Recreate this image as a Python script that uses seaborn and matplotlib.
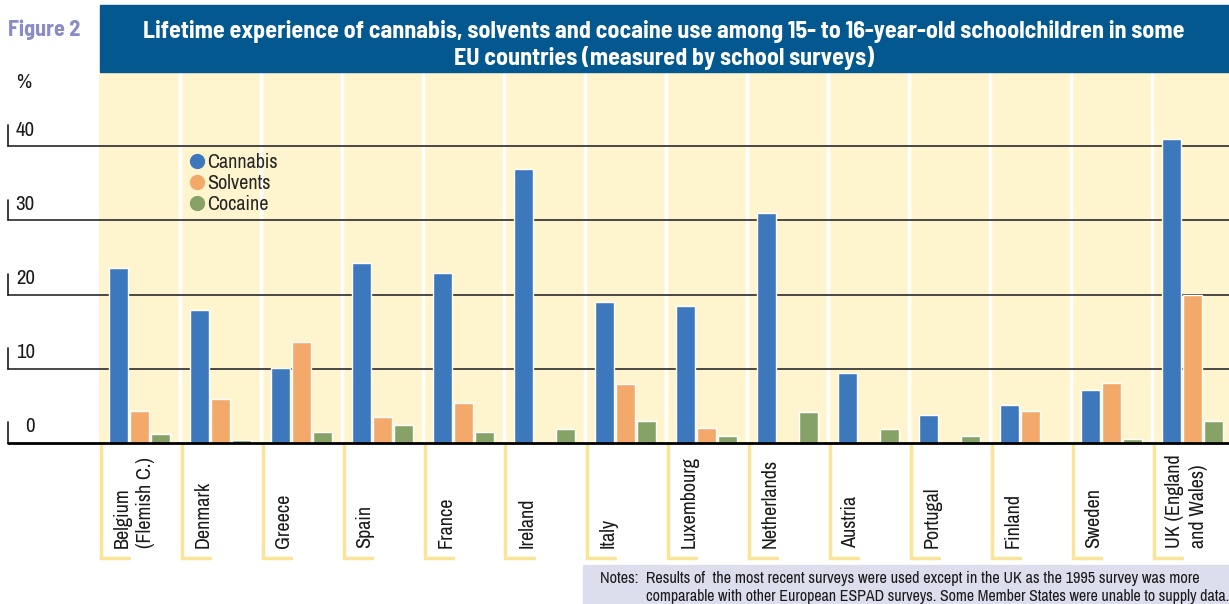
import pandas as pd
import numpy as np
import matplotlib
matplotlib.use("Agg")
import matplotlib.pyplot as plt
from matplotlib.lines import Line2D
from matplotlib.patches import Rectangle
import seaborn as sns

# Dados (%)
countries = ["Belgium\n(Flemish C.)", "Denmark", "Greece", "Spain", "France", "Ireland",
             "Italy", "Luxembourg", "Netherlands", "Austria", "Portugal", "Finland",
             "Sweden", "UK (England\nand Wales)"]
cannabis = [23.6, 17.9, 10.1, 24.3, 22.9, 36.9, 19.0, 18.5, 31.0, 9.4, 3.8, 5.1, 7.1, 41.0]
solvents = [4.3, 5.9, 13.6, 3.5, 5.4, np.nan, 8.0, 2.0, np.nan, np.nan, np.nan, 4.3, 8.1, 20.0]
cocaine = [1.2, 0.4, 1.5, 2.4, 1.5, 1.9, 3.0, 0.9, 4.2, 1.9, 0.9, 0.2, 0.5, 3.0]
drugs = ["Cannabis", "Solvents", "Cocaine"]
yticks = [0, 10, 20, 30, 40]

colors = {"Cannabis": "#3d78bc", "Solvents": "#f3a96a", "Cocaine": "#86a266"}

sns.set_style("white")
plt.rcParams["font.family"] = ["Archivo Narrow", "DejaVu Sans"]
bold_font = ["Barlow Semi Condensed", "DejaVu Sans"]

df = pd.DataFrame({"country": countries * 3,
                   "drug": np.repeat(drugs, len(countries)),
                   "value": cannabis + solvents + cocaine})
df = df.dropna()

W, H = 1229, 604
fig = plt.figure(figsize=(W / 100, H / 100), dpi=100)
ax_l, ax_r, ax_t, ax_b = 99, 1229, 72, 443
ax = fig.add_axes([ax_l / W, 1 - ax_b / H, (ax_r - ax_l) / W, (ax_b - ax_t) / H])
ax.set_facecolor("#fef5cf")

sns.barplot(data=df, x="country", y="value", hue="drug", order=countries, hue_order=drugs,
            palette=colors, width=0.78, gap=0.06, saturation=1, legend=False, ax=ax, zorder=3)

ncol = len(countries)
ax.set_xlim(-0.5, -0.5 + (ax_r - ax_l) / 81)
ax.set_ylim(0, 50)
for s in ax.spines.values():
    s.set_visible(False)
ax.set_xticks([])
ax.set_yticks([])
ax.set_xlabel("")
ax.set_ylabel("")

# Separadores brancos entre países
for k in range(ncol - 1):
    ax.axvline(k + 0.5, color="white", lw=2.5, zorder=1)

# Linhas de grade estendidas à esquerda
px = ax_r - ax_l
xmin = -(ax_l - 8) / px
for v in yticks[1:]:
    ax.axhline(v, xmin=xmin, xmax=1, color="#3a3a3a", lw=1.3, clip_on=False, zorder=2)
ax.axhline(0, xmin=xmin, xmax=1, color="black", lw=2, clip_on=False, zorder=4)

ytr = ax.get_yaxis_transform()
for v in yticks:
    ax.text((35 - ax_l) / px, v + 0.9, str(v), transform=ytr, ha="right", va="bottom",
            fontsize=15, color="#1a1a1a")
    ax.plot([(8 - ax_l) / px] * 2, [v, v + 2.8], transform=ytr, color="#1a1a1a",
            lw=1.2, clip_on=False)
fig.text(24 / W, 1 - 82 / H, "%", ha="center", va="center", fontsize=15, color="#1a1a1a")

# Rótulos dos países com colchetes amarelos
xtr = ax.get_xaxis_transform()
yb = -(558 - ax_b) / (ax_b - ax_t)
for i, c in enumerate(countries):
    left = i - 0.5 + 1.5 / 81
    ax.plot([left, left, left + 28 / 81], [-0.005, yb, yb], transform=xtr,
            color="#fbe398", lw=2.5, clip_on=False, solid_joinstyle="miter")
    ax.text(i - 0.5 + 13.5 / 81, -(548 - ax_b) / (ax_b - ax_t), c, transform=xtr,
            rotation=90, rotation_mode="anchor", ha="left", va="top",
            fontsize=14.5, color="#1a1a1a", linespacing=1.3)

# Legenda
handles = [Line2D([], [], marker="o", ls="", markersize=10, color=colors[d]) for d in drugs]
ax.legend(handles, drugs, loc="upper left", bbox_to_anchor=(177 / W, 1 - 145 / H),
          bbox_transform=fig.transFigure, frameon=False, fontsize=14.5,
          handletextpad=-0.1, labelspacing=0.1, borderaxespad=0, handlelength=1.2)

# Faixa do título
fig.patches.append(Rectangle((100 / W, 1 - 72 / H), (W - 100) / W, 67 / H,
                             transform=fig.transFigure, color="#03588f", zorder=0))
fig.text(664 / W, 1 - 45 / H,
         "Lifetime experience of cannabis, solvents and cocaine use among 15- to 16-year-old schoolchildren in some\n"
         "EU countries (measured by school surveys)",
         ha="center", va="center", color="white", fontsize=17.3, fontweight="bold",
         family=bold_font, linespacing=1.12)
fig.text(8 / W, 1 - 30 / H, "Figure 2", ha="left", va="center", color="#8a8cc8",
         fontsize=16, fontweight="bold", family=bold_font)

# Notas
fig.patches.append(Rectangle((583 / W, 0), (W - 583) / W, 39 / H,
                             transform=fig.transFigure, color="#dcdded", zorder=0))
fig.text(600 / W, 1 - 578 / H,
         "Notes:  Results of  the most recent surveys were used except in the UK as the 1995 survey was more",
         ha="left", va="center", fontsize=11.7, color="#1a1a1a")
fig.text(646 / W, 1 - 596 / H,
         "comparable with other European ESPAD surveys. Some Member States were unable to supply data.",
         ha="left", va="center", fontsize=11.5, color="#1a1a1a")

fig.savefig("out.png", dpi=100)
